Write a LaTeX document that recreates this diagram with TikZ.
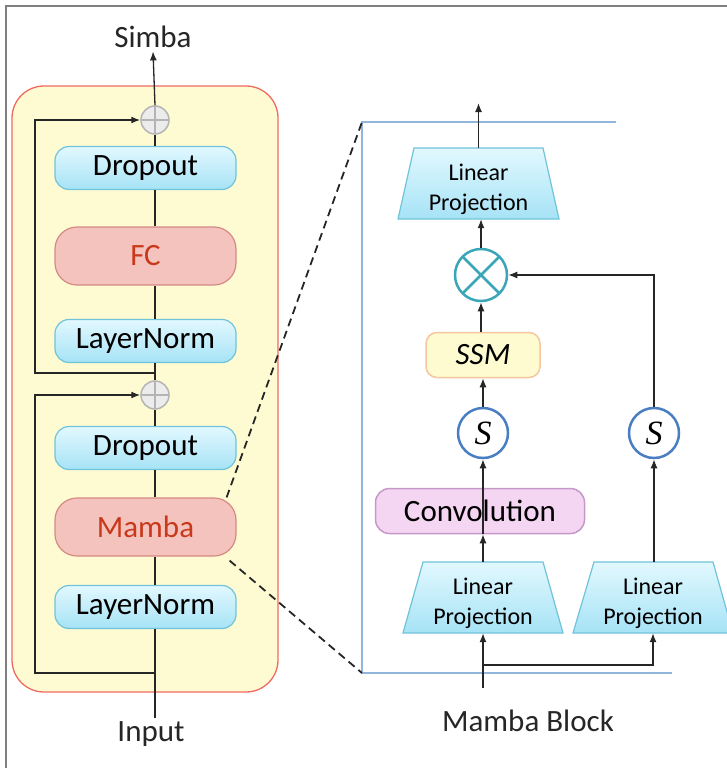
\documentclass[tikz,border=0pt]{standalone}
\usepackage{fontspec}
\setmainfont{Carlito}
\newfontfamily\sserif{Liberation Serif}
\usetikzlibrary{arrows.meta,calc}
\definecolor{bluetop}{HTML}{E2F8FE}
\definecolor{bluebot}{HTML}{A6E3F6}
\definecolor{bluebd}{HTML}{6FC3DA}
\definecolor{redfill}{HTML}{F5C3BE}
\definecolor{redbd}{HTML}{D58A84}
\definecolor{redtxt}{HTML}{C8391B}
\definecolor{yellowbg}{HTML}{FEFBD2}
\definecolor{contbd}{HTML}{F06A60}
\definecolor{framegray}{HTML}{7F7F7F}
\definecolor{addgray}{HTML}{B4B4B4}
\definecolor{addfill}{HTML}{ECECEC}
\definecolor{multeal}{HTML}{3AA6B7}
\definecolor{sblue}{HTML}{4A7EC2}
\definecolor{ssmfill}{HTML}{FEFBD0}
\definecolor{ssmbd}{HTML}{F5C6A0}
\definecolor{convfill}{HTML}{F5D6F2}
\definecolor{convbd}{HTML}{C598C8}
\definecolor{blueline}{HTML}{92B5DC}
\newcommand{\myfs}[2]{\fontsize{#1}{#2}\selectfont}
\begin{document}
\begin{tikzpicture}[x=1pt,y=-1pt,
  bluebox/.style={draw=bluebd, line width=1.2, top color=bluetop, bottom color=bluebot,
     rounded corners=14, minimum width=181, minimum height=43, inner sep=0, font=\myfs{31}{31}},
  redbox/.style={draw=redbd, line width=1.2, fill=redfill, text=redtxt,
     rounded corners=22, minimum width=181, minimum height=58, inner sep=0, font=\myfs{31}{31}},
  addc/.style={circle, minimum size=28, inner sep=0, fill=addfill, draw=addgray, line width=1.5,
     path picture={\draw[addgray, line width=1.5] (path picture bounding box.north) -- (path picture bounding box.south)
        (path picture bounding box.west) -- (path picture bounding box.east);}},
  mulc/.style={circle, minimum size=52, inner sep=0, fill=white, draw=multeal, line width=2.5,
     path picture={\draw[multeal, line width=2.5] (path picture bounding box.north west) -- (path picture bounding box.south east)
        (path picture bounding box.north east) -- (path picture bounding box.south west);}},
  sc/.style={circle, minimum size=50, inner sep=0, fill=white, draw=sblue, line width=2.5, font=\sserif\itshape\myfs{34}{34}},
  ssmbox/.style={draw=ssmbd, line width=1.5, fill=ssmfill, rounded corners=11,
     minimum width=114, minimum height=45, inner sep=0, font=\myfs{31}{31}\itshape},
  convbox/.style={draw=convbd, line width=1.5, fill=convfill, rounded corners=14,
     minimum width=209, minimum height=45, inner sep=0, font=\myfs{31}{31}},
  lpshape/.style={draw=bluebd, line width=1.2, top color=bluetop, bottom color=bluebot},
  lpnode/.style={minimum width=161, minimum height=71, inner sep=0},
  lptext/.style={inner sep=0, align=center, font=\myfs{24}{30}, yshift=-6},
  lbl/.style={font=\myfs{31}{31}, text=black!85},
  ln/.style={line width=1.3, black!85},
  conn/.style={line width=1.3, black!85, -{Latex[length=9,width=7]}},
  dashln/.style={line width=1.8, black!85, dash pattern=on 8pt off 5pt},
  frameln/.style={line width=1.5, blueline}
]
\useasboundingbox (0,0) rectangle (727,768);
% outer frame
\draw[framegray, line width=1.2] (6,768) -- (6,6) -- (727,6);

% ---------- left: Simba ----------
\node[draw=contbd, line width=1.3, fill=yellowbg, rounded corners=32,
      minimum width=266, minimum height=606, inner sep=0] (blk) at (145,389) {};

\node[lbl] (simba) at (153,37) {Simba};
\node[lbl] (inp) at (151,734) {Input};

\node[addc] (add1) at (155,120) {};
\node[bluebox] (drop1) at (145.5,168) {Dropout};
\node[redbox] (fc) at (145.5,256) {FC};
\node[bluebox] (ln1) at (145.5,341) {LayerNorm};
\node[addc] (add2) at (155,395) {};
\node[bluebox] (drop2) at (145.5,448) {Dropout};
\node[redbox] (mamba) at (145.5,527) {Mamba};
\node[bluebox] (ln2) at (145.5,607) {LayerNorm};

% main line
\draw[conn] (add1.north) -- (simba.south);
\draw[ln] (drop1.north -| add1) -- (add1.south);
\draw[ln] (fc.north -| add1) -- (drop1.south -| add1);
\draw[ln] (ln1.north -| add1) -- (fc.south -| add1);
\draw[ln] (add2.north) -- (ln1.south -| add1);
\draw[ln] (drop2.north -| add2) -- (add2.south);
\draw[ln] (mamba.north -| add2) -- (drop2.south -| add2);
\draw[ln] (ln2.north -| add2) -- (mamba.south -| add2);
\draw[ln] (add2 |- inp.north) -- (ln2.south -| add2);

% skip connections
\coordinate (sk1) at (155,373);
\coordinate (sk2) at (155,673);
\draw[conn] (sk1) -- (35,373) |- (add1.west);
\draw[conn] (sk2) -- (35,673) |- (add2.west);

% ---------- right: Mamba block ----------
\coordinate (ftl) at (362,122);
\coordinate (ftr) at (616,122);
\coordinate (fbl) at (362,673);
\coordinate (fbr) at (672,673);
\draw[frameln] (ftr) -- (ftl) -- (fbl) -- (fbr);

\draw[dashln] ($(mamba.north east)+(-10,0)$) -- (ftl);
\draw[dashln] ($(mamba.south east)+(-7,4)$) -- (fbl);

% trapezoids
\draw[lpshape] (414,148) -- (543,148) -- (559,219) -- (398,219) -- cycle;
\node[lpnode] (lp0) at (478.5,183.5) {};
\node[lptext] (lp0t) at (lp0) {Linear\\Projection};
\draw[lpshape] (423,562) -- (543,562) -- (563,633) -- (403,633) -- cycle;
\node[lpnode] (lp1) at (483,597.5) {};
\node[lptext] (lp1t) at (lp1) {Linear\\Projection};
\draw[lpshape] (594,562) -- (713,562) -- (733,633) -- (573,633) -- cycle;
\node[lpnode] (lp2) at (653,597.5) {};
\node[lptext] (lp2t) at (lp2) {Linear\\Projection};

\node[mulc] (mul) at (481,275) {};
\node[ssmbox] (ssm) at (483,355) {SSM};
\node[sc] (s1) at (483,433) {S};
\node[convbox] (conv) at (480,511) {Convolution};
\node[sc] (s2) at (654,433) {S};

\node[lbl] (mblock) at (528,721) {Mamba Block};

\coordinate (out) at (478.5,103);
\coordinate (bin) at (483,688);
\coordinate (br) at (483,665);

\draw[conn] (lp0.north) -- (out);
\draw[conn] (mul.north) -- (lp0.south -| mul);
\draw[conn] (ssm.north -| mul) -- (mul.south);
\draw[conn] (s1.north) -- (ssm.south);
\draw[conn] (conv.south -| s1) -- (s1.south);
\draw[conn] (lp1.north) -- (conv.south -| lp1);
\draw[conn] (bin) -- (lp1.south);
\draw[conn] (br) -| (lp2.south);
\draw[conn] (lp2.north -| s2) -- (s2.south);
\draw[conn] (s2.north) |- (mul.east);
\end{tikzpicture}
\end{document}
